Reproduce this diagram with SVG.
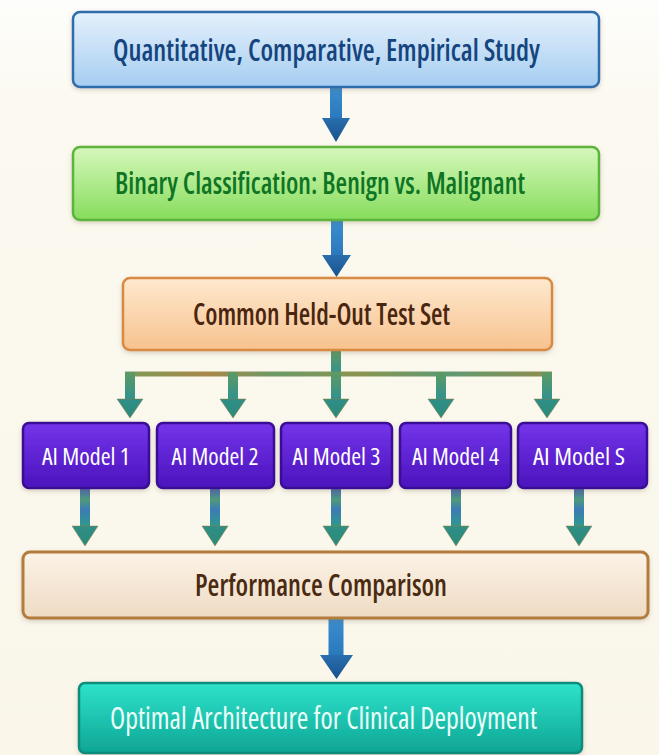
<svg xmlns="http://www.w3.org/2000/svg" width="659" height="755" viewBox="0 0 659 755">
  <defs>
    <linearGradient id="bg" x1="0" y1="0" x2="0" y2="1">
      <stop offset="0" stop-color="#fdfdfb"/>
      <stop offset="0.15" stop-color="#fbf9f0"/>
      <stop offset="1" stop-color="#faf6ea"/>
    </linearGradient>
    <linearGradient id="gBlue" x1="0" y1="0" x2="0" y2="1">
      <stop offset="0" stop-color="#e4f1fc"/>
      <stop offset="1" stop-color="#a6cdf1"/>
    </linearGradient>
    <linearGradient id="gGreen" x1="0" y1="0" x2="0" y2="1">
      <stop offset="0" stop-color="#d6f8bc"/>
      <stop offset="1" stop-color="#86dc5c"/>
    </linearGradient>
    <linearGradient id="gOrange" x1="0" y1="0" x2="0" y2="1">
      <stop offset="0" stop-color="#fee9cf"/>
      <stop offset="1" stop-color="#f7c28e"/>
    </linearGradient>
    <linearGradient id="gPurple" x1="0" y1="0" x2="0" y2="1">
      <stop offset="0" stop-color="#7434ea"/>
      <stop offset="1" stop-color="#4a14bc"/>
    </linearGradient>
    <linearGradient id="gBeige" x1="0" y1="0" x2="0" y2="1">
      <stop offset="0" stop-color="#fcf3e7"/>
      <stop offset="1" stop-color="#eedbc3"/>
    </linearGradient>
    <linearGradient id="gTeal" x1="0" y1="0" x2="0" y2="1">
      <stop offset="0" stop-color="#2ee3cb"/>
      <stop offset="1" stop-color="#0fa595"/>
    </linearGradient>
    <linearGradient id="gShaft" x1="0" y1="0" x2="0" y2="1">
      <stop offset="0" stop-color="#3b8fd0"/>
      <stop offset="1" stop-color="#2a78bc"/>
    </linearGradient>
    <linearGradient id="gHead" x1="0" y1="0" x2="0" y2="1">
      <stop offset="0" stop-color="#2a6eae"/>
      <stop offset="1" stop-color="#17528e"/>
    </linearGradient>
    <linearGradient id="gBar" x1="0" y1="0" x2="1" y2="0">
      <stop offset="0" stop-color="#7d9a58"/>
      <stop offset="0.2" stop-color="#a8884a"/>
      <stop offset="0.35" stop-color="#6c9a66"/>
      <stop offset="0.55" stop-color="#8a9450"/>
      <stop offset="0.75" stop-color="#5f9a72"/>
      <stop offset="1" stop-color="#8f8c4e"/>
    </linearGradient>
    <linearGradient id="gDrop" x1="0" y1="0" x2="0" y2="1">
      <stop offset="0" stop-color="#5f9a62"/>
      <stop offset="1" stop-color="#2f9290"/>
    </linearGradient>
    <linearGradient id="gDrop2" x1="0" y1="0" x2="0" y2="1">
      <stop offset="0" stop-color="#4a62b8"/>
      <stop offset="0.3" stop-color="#4f9a7a"/>
      <stop offset="0.55" stop-color="#3c7cb4"/>
      <stop offset="1" stop-color="#2e9a8c"/>
    </linearGradient>
    <linearGradient id="gTri" x1="0" y1="0" x2="0" y2="1">
      <stop offset="0" stop-color="#2f8f86"/>
      <stop offset="1" stop-color="#2a8a7a"/>
    </linearGradient>
    <filter id="shadow" x="-5%" y="-10%" width="110%" height="130%">
      <feDropShadow dx="0" dy="2" stdDeviation="2" flood-color="#6b5a40" flood-opacity="0.25"/>
    </filter>
    <style>
      .lbl { font-family: "Open Sans", "Liberation Sans", sans-serif; font-stretch: condensed; text-anchor: middle; }
      .big { font-size: 30px; font-weight: 600; }
      .light { font-weight: 400; }
      .mdl { font-size: 24px; font-weight: 400; fill: #ffffff; }
      .box { stroke-width: 2.5; filter: url(#shadow); }
      .tri { fill: url(#gTri); stroke: #9a7a3a; stroke-width: 0.8; stroke-opacity: 0.6; }
    </style>
  </defs>

  <rect x="0" y="0" width="659" height="755" fill="url(#bg)"/>

  <!-- connectors -->
  <g id="connectors">
    <!-- study -> classification -->
    <rect x="330" y="86" width="12" height="33" fill="url(#gShaft)"/>
    <polygon points="322,118 350,118 336,142" fill="url(#gHead)"/>
    <!-- classification -> test set -->
    <rect x="331" y="219" width="12" height="37" fill="url(#gShaft)"/>
    <polygon points="322,255 351,255 336.5,277" fill="url(#gHead)"/>
    <!-- test set -> models (fan-out) -->
    <rect x="331" y="350" width="10" height="25" fill="url(#gDrop)"/>
    <rect x="125" y="371.5" width="427" height="5" fill="url(#gBar)"/>
    <rect x="125" y="372" width="10" height="28" fill="url(#gDrop)"/>
    <polygon class="tri" points="117,399 143,399 130,418"/>
    <rect x="228" y="372" width="10" height="28" fill="url(#gDrop)"/>
    <polygon class="tri" points="220,399 246,399 233,418"/>
    <rect x="331" y="372" width="10" height="28" fill="url(#gDrop)"/>
    <polygon class="tri" points="323,399 349,399 336,418"/>
    <rect x="436" y="372" width="10" height="28" fill="url(#gDrop)"/>
    <polygon class="tri" points="428,399 454,399 441,418"/>
    <rect x="542" y="372" width="10" height="28" fill="url(#gDrop)"/>
    <polygon class="tri" points="534,399 560,399 547,418"/>
    <!-- models -> comparison -->
    <rect x="80" y="488" width="10" height="39" fill="url(#gDrop2)"/>
    <polygon class="tri" points="72,526 98,526 85,546"/>
    <rect x="210" y="488" width="10" height="39" fill="url(#gDrop2)"/>
    <polygon class="tri" points="202,526 228,526 215,546"/>
    <rect x="331" y="488" width="10" height="39" fill="url(#gDrop2)"/>
    <polygon class="tri" points="323,526 349,526 336,546"/>
    <rect x="451" y="488" width="10" height="39" fill="url(#gDrop2)"/>
    <polygon class="tri" points="443,526 469,526 456,546"/>
    <rect x="574" y="488" width="10" height="39" fill="url(#gDrop2)"/>
    <polygon class="tri" points="566,526 592,526 579,546"/>
    <!-- comparison -> deployment -->
    <rect x="328.5" y="617" width="15" height="39" fill="url(#gShaft)"/>
    <polygon points="320,655 353,655 336.5,679" fill="url(#gHead)"/>
  </g>

  <g id="study">
    <rect class="box" x="73" y="12" width="526" height="75" rx="7" fill="url(#gBlue)" stroke="#2d6cab"/>
    <text class="lbl big" x="326.5" y="60.5" fill="#15457f" textLength="427" lengthAdjust="spacingAndGlyphs">Quantitative, Comparative, Empirical Study</text>
  </g>

  <g id="classification">
    <rect class="box" x="73" y="147" width="526" height="73" rx="7" fill="url(#gGreen)" stroke="#5cb43c"/>
    <text class="lbl big" x="320" y="194" fill="#0f7424" textLength="410" lengthAdjust="spacingAndGlyphs">Binary Classification: Benign vs. Malignant</text>
  </g>

  <g id="test-set">
    <rect class="box" x="123" y="278" width="429" height="72" rx="7" fill="url(#gOrange)" stroke="#d88a42"/>
    <text class="lbl big" x="321.5" y="324.5" fill="#4a2610" textLength="257" lengthAdjust="spacingAndGlyphs">Common Held-Out Test Set</text>
  </g>

  <g id="model-1">
    <rect class="box" x="23" y="423" width="126" height="65" rx="6" fill="url(#gPurple)" stroke="#3a0e96"/>
    <text class="lbl mdl" x="86" y="465" textLength="88" lengthAdjust="spacingAndGlyphs">AI Model 1</text>
  </g>
  <g id="model-2">
    <rect class="box" x="157" y="423" width="117" height="65" rx="6" fill="url(#gPurple)" stroke="#3a0e96"/>
    <text class="lbl mdl" x="215" y="465" textLength="87" lengthAdjust="spacingAndGlyphs">AI Model 2</text>
  </g>
  <g id="model-3">
    <rect class="box" x="281" y="423" width="111" height="65" rx="6" fill="url(#gPurple)" stroke="#3a0e96"/>
    <text class="lbl mdl" x="336.5" y="465" textLength="88" lengthAdjust="spacingAndGlyphs">AI Model 3</text>
  </g>
  <g id="model-4">
    <rect class="box" x="400" y="423" width="111" height="65" rx="6" fill="url(#gPurple)" stroke="#3a0e96"/>
    <text class="lbl mdl" x="455.5" y="465" textLength="87" lengthAdjust="spacingAndGlyphs">AI Model 4</text>
  </g>
  <g id="model-5">
    <rect class="box" x="518" y="423" width="129" height="65" rx="6" fill="url(#gPurple)" stroke="#3a0e96"/>
    <text class="lbl mdl" x="579" y="465" textLength="92" lengthAdjust="spacingAndGlyphs">AI Model S</text>
  </g>

  <g id="comparison">
    <rect class="box" x="23" y="552" width="625" height="66" rx="7" fill="url(#gBeige)" stroke="#b37c3c" style="stroke-width:3"/>
    <text class="lbl big" x="321" y="595.5" fill="#4a2a10" textLength="252" lengthAdjust="spacingAndGlyphs">Performance Comparison</text>
  </g>

  <g id="deployment">
    <rect class="box" x="79" y="683" width="503" height="70" rx="6" fill="url(#gTeal)" stroke="#0e8c7c"/>
    <text class="lbl big light" x="323.5" y="729" fill="#eafffa" textLength="427" lengthAdjust="spacingAndGlyphs">Optimal Architecture for Clinical Deployment</text>
  </g>
</svg>
